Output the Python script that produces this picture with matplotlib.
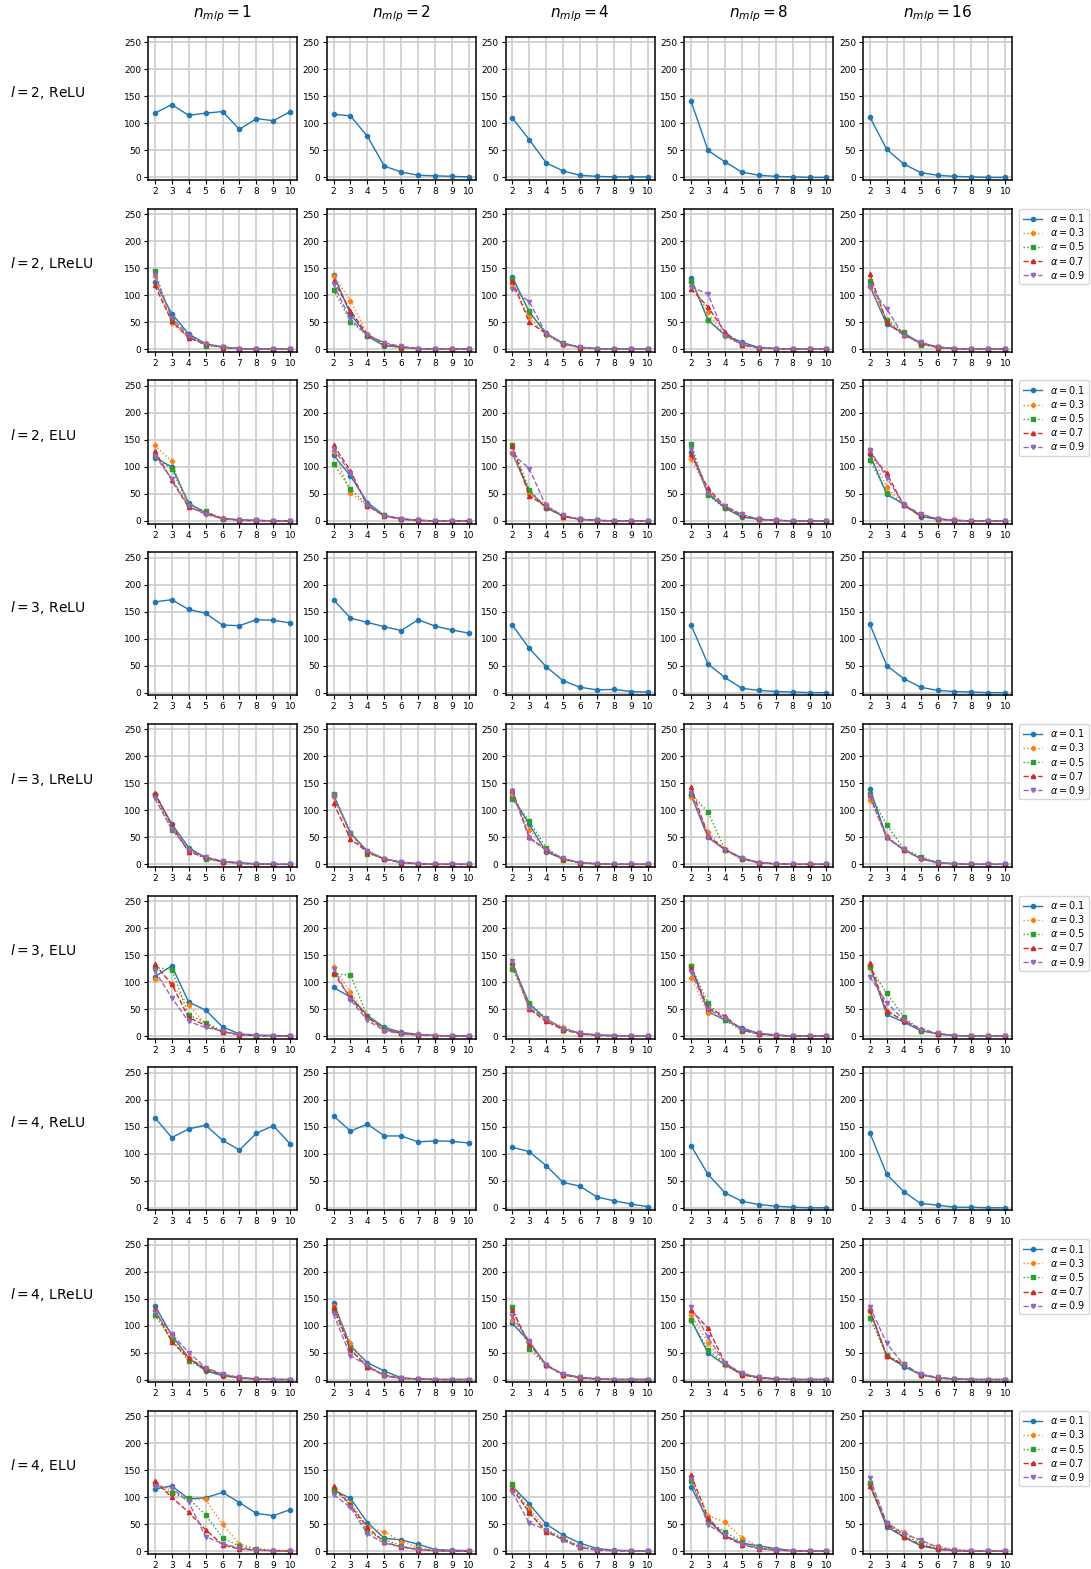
import matplotlib
matplotlib.use("Agg")
import matplotlib.pyplot as plt
import numpy as np

x_vals = [2, 3, 4, 5, 6, 7, 8, 9, 10]
n_mlp = [1, 2, 4, 8, 16]
alphas = [0.1, 0.3, 0.5, 0.7, 0.9]

# ReLU rows: one series per n_mlp column
relu_l2 = [
    [119, 135, 115, 119, 122, 89, 109, 105, 122],
    [117, 114, 76, 21, 10, 4, 3, 2, 1],
    [110, 70, 27, 12, 4, 2, 1, 1, 1],
    [141, 50, 29, 10, 4, 2, 1, 0, 0],
    [112, 52, 25, 9, 4, 2, 1, 0, 0],
]
relu_l3 = [
    [168, 172, 154, 147, 125, 124, 135, 134, 129],
    [172, 138, 130, 122, 115, 135, 123, 116, 110],
    [125, 82, 48, 22, 10, 5, 6, 2, 1],
    [125, 53, 28, 8, 4, 2, 1, 0, 0],
    [127, 50, 26, 10, 4, 2, 1, 0, 0],
]
relu_l4 = [
    [167, 130, 146, 153, 125, 107, 138, 152, 118],
    [170, 142, 155, 133, 133, 122, 124, 123, 120],
    [112, 104, 78, 47, 40, 20, 13, 7, 2],
    [115, 62, 28, 12, 6, 3, 1, 0, 0],
    [139, 62, 30, 8, 5, 1, 1, 0, 0],
]

# LReLU / ELU rows: per column, one series per alpha (0.1 .. 0.9)
lrelu_l2 = [
    [[124, 66, 28, 10, 4, 1, 0, 0, 0], [135, 48, 22, 11, 4, 1, 0, 0, 0],
     [144, 55, 24, 6, 4, 1, 0, 0, 0], [118, 52, 21, 9, 3, 1, 0, 0, 0],
     [138, 58, 25, 9, 4, 1, 0, 0, 0]],
    [[138, 65, 24, 6, 4, 1, 0, 0, 0], [136, 90, 28, 10, 3, 1, 0, 0, 0],
     [110, 51, 25, 7, 3, 1, 0, 0, 0], [127, 71, 27, 10, 4, 1, 0, 0, 0],
     [120, 55, 26, 12, 5, 1, 0, 0, 0]],
    [[134, 69, 29, 11, 3, 1, 0, 0, 0], [120, 59, 26, 8, 3, 1, 0, 0, 0],
     [130, 70, 28, 12, 3, 1, 0, 0, 0], [127, 50, 29, 10, 3, 1, 0, 0, 0],
     [112, 88, 28, 10, 4, 1, 0, 0, 0]],
    [[131, 54, 26, 13, 3, 1, 0, 0, 0], [125, 68, 24, 8, 3, 1, 0, 0, 0],
     [127, 54, 27, 9, 3, 1, 0, 0, 0], [112, 78, 32, 7, 3, 1, 0, 0, 0],
     [115, 102, 25, 9, 3, 1, 0, 0, 0]],
    [[117, 46, 30, 11, 4, 1, 0, 0, 0], [116, 52, 28, 10, 3, 1, 0, 0, 0],
     [127, 54, 31, 8, 4, 1, 0, 0, 0], [139, 50, 26, 12, 3, 1, 0, 0, 0],
     [116, 74, 25, 13, 4, 1, 0, 0, 0]],
]
elu_l2 = [
    [[117, 100, 33, 15, 4, 2, 1, 0, 0], [140, 110, 28, 12, 5, 1, 0, 0, 0],
     [120, 96, 30, 18, 4, 2, 1, 0, 0], [130, 75, 25, 15, 5, 1, 0, 0, 0],
     [121, 78, 27, 12, 4, 2, 1, 0, 0]],
    [[122, 83, 34, 10, 4, 1, 0, 0, 0], [130, 51, 28, 10, 3, 1, 0, 0, 0],
     [106, 59, 29, 10, 4, 1, 0, 0, 0], [140, 93, 28, 9, 3, 1, 0, 0, 0],
     [134, 88, 30, 9, 4, 1, 0, 0, 0]],
    [[125, 55, 24, 9, 3, 1, 0, 0, 0], [125, 50, 31, 8, 3, 1, 0, 0, 0],
     [140, 58, 24, 9, 3, 1, 0, 0, 0], [139, 47, 26, 8, 3, 1, 0, 0, 0],
     [124, 97, 27, 10, 3, 1, 0, 0, 0]],
    [[128, 50, 24, 7, 3, 1, 0, 0, 0], [115, 55, 26, 10, 4, 1, 0, 0, 0],
     [142, 48, 23, 9, 3, 1, 0, 0, 0], [123, 60, 27, 10, 3, 1, 0, 0, 0],
     [134, 52, 28, 12, 3, 1, 0, 0, 0]],
    [[123, 49, 31, 8, 3, 1, 0, 0, 0], [132, 62, 29, 10, 3, 1, 0, 0, 0],
     [113, 52, 30, 10, 3, 1, 0, 0, 0], [125, 88, 29, 10, 4, 1, 0, 0, 0],
     [132, 80, 30, 13, 4, 1, 0, 0, 0]],
]
lrelu_l3 = [
    [[130, 75, 31, 12, 5, 3, 1, 0, 0], [128, 68, 25, 12, 5, 2, 1, 0, 0],
     [128, 64, 28, 9, 5, 2, 1, 0, 0], [133, 72, 23, 13, 5, 2, 0, 0, 0],
     [122, 65, 27, 14, 6, 2, 1, 0, 0]],
    [[128, 58, 24, 10, 4, 1, 0, 0, 0], [125, 55, 22, 10, 4, 1, 0, 0, 0],
     [130, 58, 20, 10, 3, 1, 0, 0, 0], [113, 47, 23, 10, 3, 1, 0, 0, 0],
     [126, 58, 25, 10, 4, 1, 0, 0, 0]],
    [[125, 74, 23, 10, 3, 1, 0, 0, 0], [130, 64, 25, 9, 3, 1, 0, 0, 0],
     [121, 80, 31, 8, 3, 1, 0, 0, 0], [138, 50, 26, 10, 3, 1, 0, 0, 0],
     [135, 48, 27, 11, 3, 1, 0, 0, 0]],
    [[128, 50, 27, 12, 3, 1, 0, 0, 0], [125, 60, 26, 10, 3, 1, 0, 0, 0],
     [130, 97, 27, 9, 3, 1, 0, 0, 0], [143, 53, 28, 11, 3, 1, 0, 0, 0],
     [133, 50, 27, 11, 3, 1, 0, 0, 0]],
    [[140, 50, 27, 11, 3, 1, 0, 0, 0], [120, 52, 28, 10, 3, 1, 0, 0, 0],
     [131, 73, 29, 14, 4, 1, 0, 0, 0], [128, 50, 27, 11, 3, 1, 0, 0, 0],
     [126, 49, 28, 10, 3, 1, 0, 0, 0]],
]
elu_l3 = [
    [[110, 130, 63, 48, 17, 4, 2, 1, 0], [106, 96, 57, 22, 8, 3, 1, 0, 0],
     [127, 123, 39, 25, 9, 3, 1, 0, 0], [133, 96, 34, 20, 8, 2, 1, 0, 0],
     [121, 71, 27, 16, 9, 3, 1, 0, 0]],
    [[90, 72, 38, 16, 7, 3, 1, 0, 0], [128, 81, 35, 13, 6, 3, 1, 0, 0],
     [115, 113, 37, 14, 5, 2, 1, 0, 0], [117, 70, 35, 12, 5, 2, 1, 0, 0],
     [125, 67, 29, 10, 4, 2, 1, 0, 0]],
    [[134, 60, 31, 14, 5, 2, 1, 0, 0], [126, 52, 30, 17, 5, 2, 1, 0, 0],
     [125, 61, 33, 11, 5, 2, 1, 0, 0], [137, 50, 27, 12, 4, 1, 0, 0, 0],
     [139, 52, 32, 13, 5, 2, 1, 0, 0]],
    [[130, 45, 30, 15, 5, 2, 0, 0, 0], [108, 43, 34, 12, 5, 2, 0, 0, 0],
     [130, 61, 29, 10, 4, 1, 0, 0, 0], [126, 52, 37, 11, 4, 1, 0, 0, 0],
     [118, 50, 33, 12, 5, 2, 0, 0, 0]],
    [[130, 40, 26, 10, 4, 1, 0, 0, 0], [128, 46, 30, 12, 4, 1, 0, 0, 0],
     [127, 79, 36, 10, 4, 1, 0, 0, 0], [135, 47, 28, 14, 4, 1, 0, 0, 0],
     [110, 62, 30, 12, 5, 1, 0, 0, 0]],
]
lrelu_l4 = [
    [[137, 82, 40, 16, 7, 3, 1, 0, 0], [128, 78, 40, 20, 8, 3, 1, 0, 0],
     [120, 73, 34, 18, 8, 3, 1, 0, 0], [130, 70, 40, 20, 9, 3, 1, 0, 0],
     [125, 84, 50, 22, 10, 4, 1, 0, 0]],
    [[142, 62, 31, 16, 3, 1, 0, 0, 0], [136, 68, 25, 10, 3, 1, 0, 0, 0],
     [129, 57, 24, 8, 2, 1, 0, 0, 0], [135, 55, 23, 8, 2, 1, 0, 0, 0],
     [121, 44, 26, 6, 2, 1, 0, 0, 0]],
    [[104, 70, 26, 10, 4, 1, 0, 0, 0], [110, 72, 27, 9, 3, 1, 0, 0, 0],
     [134, 57, 26, 8, 3, 1, 0, 0, 0], [128, 66, 27, 9, 3, 1, 0, 0, 0],
     [117, 71, 26, 10, 4, 1, 0, 0, 0]],
    [[110, 49, 27, 10, 4, 1, 0, 0, 0], [120, 68, 26, 8, 3, 1, 0, 0, 0],
     [110, 55, 28, 10, 3, 1, 0, 0, 0], [129, 95, 31, 9, 3, 1, 0, 0, 0],
     [135, 78, 30, 12, 4, 1, 0, 0, 0]],
    [[128, 44, 24, 9, 3, 1, 0, 0, 0], [126, 43, 29, 8, 3, 1, 0, 0, 0],
     [114, 45, 28, 9, 3, 1, 0, 0, 0], [128, 43, 28, 9, 3, 1, 0, 0, 0],
     [135, 67, 27, 10, 4, 1, 0, 0, 0]],
]
elu_l4 = [
    [[115, 121, 97, 99, 109, 90, 70, 66, 77], [128, 111, 96, 96, 50, 13, 5, 2, 2],
     [125, 107, 98, 67, 25, 9, 4, 1, 0], [130, 100, 72, 40, 12, 4, 2, 1, 0],
     [120, 117, 91, 27, 14, 6, 2, 1, 0]],
    [[113, 98, 53, 24, 21, 13, 3, 2, 1], [118, 90, 45, 36, 18, 7, 2, 1, 0],
     [114, 86, 36, 22, 10, 4, 1, 0, 0], [120, 85, 44, 17, 8, 3, 1, 0, 0],
     [105, 81, 32, 15, 8, 3, 1, 0, 0]],
    [[120, 88, 50, 30, 15, 5, 2, 1, 0], [118, 80, 40, 25, 9, 3, 1, 0, 0],
     [125, 70, 37, 23, 8, 3, 1, 0, 0], [116, 72, 36, 22, 7, 2, 1, 0, 0],
     [110, 52, 40, 20, 7, 3, 1, 0, 0]],
    [[119, 58, 28, 15, 10, 5, 1, 0, 0], [140, 66, 54, 25, 8, 3, 1, 0, 0],
     [130, 55, 36, 17, 7, 2, 1, 0, 0], [141, 62, 28, 12, 5, 2, 1, 0, 0],
     [133, 49, 30, 14, 5, 2, 1, 0, 0]],
    [[124, 45, 27, 10, 4, 1, 0, 0, 0], [124, 50, 36, 18, 9, 3, 1, 0, 0],
     [126, 52, 30, 15, 5, 2, 1, 0, 0], [121, 50, 26, 12, 4, 1, 0, 0, 0],
     [135, 53, 32, 21, 7, 2, 1, 0, 0]],
]

rows = [
    (2, "ReLU", relu_l2), (2, "LReLU", lrelu_l2), (2, "ELU", elu_l2),
    (3, "ReLU", relu_l3), (3, "LReLU", lrelu_l3), (3, "ELU", elu_l3),
    (4, "ReLU", relu_l4), (4, "LReLU", lrelu_l4), (4, "ELU", elu_l4),
]

styles = [
    dict(color="tab:blue", marker="o", linestyle="-"),
    dict(color="tab:orange", marker="P", linestyle=":"),
    dict(color="tab:green", marker="s", linestyle=":"),
    dict(color="tab:red", marker="^", linestyle="--"),
    dict(color="tab:purple", marker="v", linestyle="--"),
]

fig, axes = plt.subplots(9, 5, figsize=(10.91, 15.69), dpi=100)
fig.subplots_adjust(left=0.1357, right=0.9276, top=0.9764, bottom=0.0096,
                    wspace=0.2, hspace=0.2)

for r, (depth, act, data) in enumerate(rows):
    for c in range(5):
        ax = axes[r, c]
        if act == "ReLU":
            ax.plot(x_vals, data[c], color="tab:blue", marker="o",
                    markersize=3, linewidth=1)
        else:
            for k, a in enumerate(alphas):
                ax.plot(x_vals, data[c][k], markersize=3, linewidth=1,
                        label=rf"$\alpha = {a}$", **styles[k])
        ax.set_ylim(-5, 260)
        ax.set_xticks(x_vals)
        ax.set_yticks([0, 50, 100, 150, 200, 250])
        ax.grid(True, color="#cccccc", linewidth=1.2)
        ax.set_axisbelow(True)
        ax.tick_params(labelsize=6.5, length=3, pad=2)
        for s in ax.spines.values():
            s.set_linewidth(1.1)
        if r == 0:
            ax.set_title(rf"$n_{{mlp}} = {n_mlp[c]}$", fontsize=11, pad=14)
        if c == 4 and act != "ReLU":
            ax.legend(loc="upper left", bbox_to_anchor=(1.05, 1.0),
                      borderaxespad=0, fontsize=7, handlelength=2.0,
                      labelspacing=0.22, borderpad=0.35)
    # row label to the left of each row
    pos = axes[r, 0].get_position()
    fig.text(0.009, (pos.y0 + pos.y1) / 2 + 0.0105, rf"$l = {depth}$, {act}",
             fontsize=10, ha="left", va="center")

fig.savefig("out.png", dpi=100, facecolor="white")
